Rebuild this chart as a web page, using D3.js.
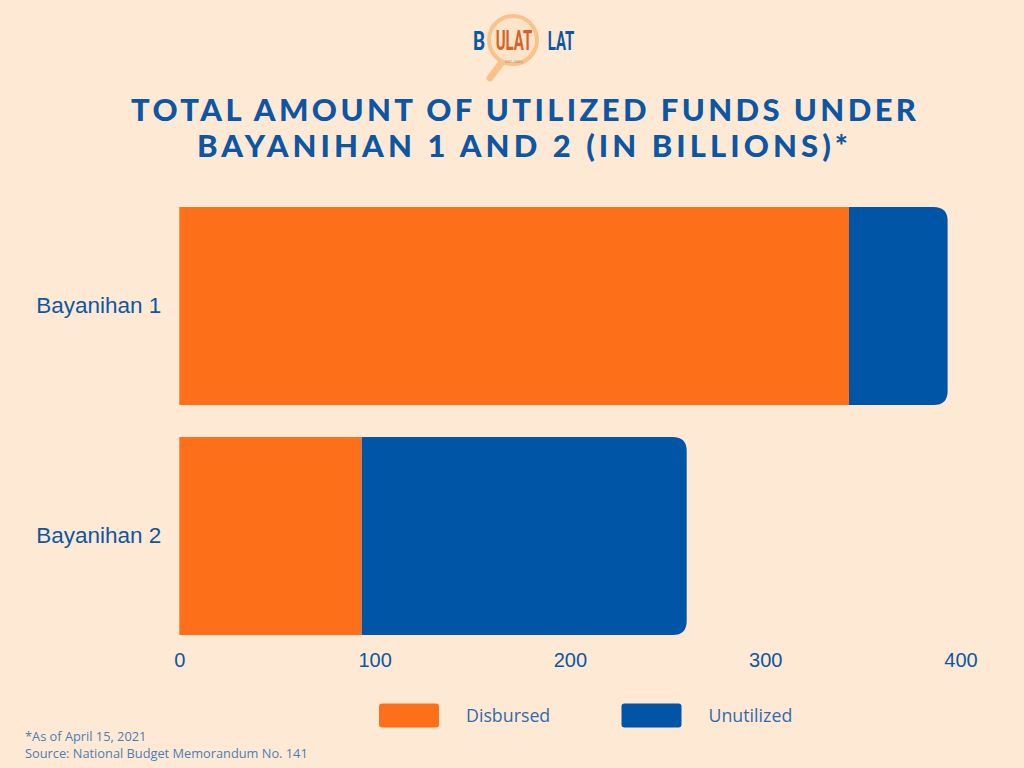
<!DOCTYPE html>
<html>
<head>
<meta charset="utf-8">
<script src="https://cdn.jsdelivr.net/npm/d3@7"></script>
<style>
  body { margin: 0; background: #feead4; }
  svg { display: block; }
</style>
</head>
<body>
<script>
// Chart values (billions of pesos)
const categories = ["Bayanihan 1", "Bayanihan 2"];
const disbursed = [342.9, 93.4];
const unutilized = [50.5, 166.4];
const seriesNames = ["Disbursed", "Unutilized"];
const tickValues = [0, 100, 200, 300, 400];

const width = 1024;
const height = 768;
const orange = "#fe6f1a";
const blue = "#0055a7";
const textBlue = "#0d56a3";

const svg = d3.select("body")
    .append("svg")
    .attr("width", width)
    .attr("height", height);

svg.append("rect")
    .attr("width", width)
    .attr("height", height)
    .attr("fill", "#feead4");

// Logo
const logo = svg.append("g");
logo.append("line")
    .attr("x1", 502).attr("y1", 62)
    .attr("x2", 490).attr("y2", 78)
    .attr("stroke", "#f9c28c")
    .attr("stroke-width", 7)
    .attr("stroke-linecap", "round");
logo.append("circle")
    .attr("cx", 513).attr("cy", 40).attr("r", 24)
    .attr("fill", "#fde4c9")
    .attr("stroke", "#f9c28c")
    .attr("stroke-width", 4);

// condensed logo letters: small font stretched vertically
function logoWord(x, y, word, size, sy, color) {
    logo.append("g")
        .attr("transform", `translate(${x}, ${y}) scale(1, ${sy})`)
        .append("text")
        .attr("text-anchor", "middle")
        .attr("font-family", "Roboto, sans-serif")
        .attr("font-weight", 700)
        .attr("font-size", size)
        .attr("fill", color)
        .text(word);
}
logoWord(479, 50, "B", 19, 1.35, "#0a57a8");
logoWord(561, 50, "LAT", 15, 1.7, "#0a57a8");
logoWord(514, 50, "ULAT", 15, 1.9, "#d4622a");
logo.append("text")
    .attr("x", 514).attr("y", 62.5)
    .attr("text-anchor", "middle")
    .attr("font-family", "DejaVu Sans, sans-serif")
    .attr("font-size", 3.5)
    .attr("fill", "#9a7a60")
    .text("EST. 2001");

// Title
const titleLines = [
    { text: "TOTAL AMOUNT OF UTILIZED FUNDS UNDER", x: 131, y: 121, len: 785 },
    { text: "BAYANIHAN 1 AND 2 (IN BILLIONS)*", x: 197, y: 157, len: 651 }
];
svg.selectAll(".title")
    .data(titleLines)
    .join("text")
    .attr("class", "title")
    .attr("x", d => d.x)
    .attr("y", d => d.y)
    .attr("textLength", d => d.len)
    .attr("lengthAdjust", "spacing")
    .attr("font-family", "Lato, sans-serif")
    .attr("font-weight", 900)
    .attr("font-size", 31)
    .attr("fill", textBlue)
    .text(d => d.text);

// Scales
const xScale = d3.scaleLinear()
    .domain([0, 400])
    .range([179.3, 960.5]);

const yScale = d3.scaleBand()
    .domain(categories)
    .range([207, 635])
    .paddingInner(32 / 230)
    .paddingOuter(0);

const data = categories.map((c, i) => ({
    category: c,
    disbursed: disbursed[i],
    unutilized: unutilized[i]
}));

// Disbursed segment
svg.selectAll(".bar-disbursed")
    .data(data)
    .join("rect")
    .attr("class", "bar-disbursed")
    .attr("x", xScale(0))
    .attr("y", d => yScale(d.category))
    .attr("width", d => xScale(d.disbursed) - xScale(0))
    .attr("height", yScale.bandwidth())
    .attr("fill", orange);

// Unutilized segment with rounded right end
const r = 14;
function roundedRight(x0, x1, y0, h) {
    return `M${x0},${y0} H${x1 - r} Q${x1},${y0} ${x1},${y0 + r} V${y0 + h - r} Q${x1},${y0 + h} ${x1 - r},${y0 + h} H${x0} Z`;
}
svg.selectAll(".bar-unutilized")
    .data(data)
    .join("path")
    .attr("class", "bar-unutilized")
    .attr("d", d => roundedRight(
        xScale(d.disbursed),
        xScale(d.disbursed + d.unutilized),
        yScale(d.category),
        yScale.bandwidth()))
    .attr("fill", blue);

// Category labels
svg.append("g")
    .attr("transform", `translate(${xScale(0)}, 0)`)
    .call(d3.axisLeft(yScale).tickSize(0).tickPadding(18))
    .call(g => g.select(".domain").remove())
    .call(g => g.selectAll("text")
        .attr("font-family", "Liberation Sans, Arial, sans-serif")
        .attr("font-size", 22.5)
        .attr("fill", textBlue));

// Value axis
svg.append("g")
    .attr("transform", `translate(0, 635)`)
    .call(d3.axisBottom(xScale).tickValues(tickValues).tickSize(0).tickPadding(18))
    .call(g => g.select(".domain").remove())
    .call(g => g.selectAll("text")
        .attr("font-family", "Liberation Sans, Arial, sans-serif")
        .attr("font-size", 20)
        .attr("fill", textBlue));

// Legend
const legendX = [379, 621.5];
const legend = svg.selectAll(".legend")
    .data(seriesNames)
    .join("g")
    .attr("class", "legend")
    .attr("transform", (d, i) => `translate(${legendX[i]}, 703.5)`);
legend.append("rect")
    .attr("width", 60)
    .attr("height", 24)
    .attr("rx", 3)
    .attr("fill", (d, i) => i === 0 ? orange : blue);
legend.append("text")
    .attr("x", 87)
    .attr("y", 18.5)
    .attr("font-family", "Open Sans, sans-serif")
    .attr("font-size", 17.8)
    .attr("fill", "#2f6bb0")
    .text(d => d);

// Footnotes
const notes = ["*As of April 15, 2021", "Source: National Budget Memorandum No. 141"];
svg.selectAll(".note")
    .data(notes)
    .join("text")
    .attr("class", "note")
    .attr("x", 25)
    .attr("y", (d, i) => 741 + i * 17)
    .attr("font-family", "Open Sans, sans-serif")
    .attr("font-size", 12.8)
    .attr("fill", "#4d7cb4")
    .text(d => d);
</script>
</body>
</html>
